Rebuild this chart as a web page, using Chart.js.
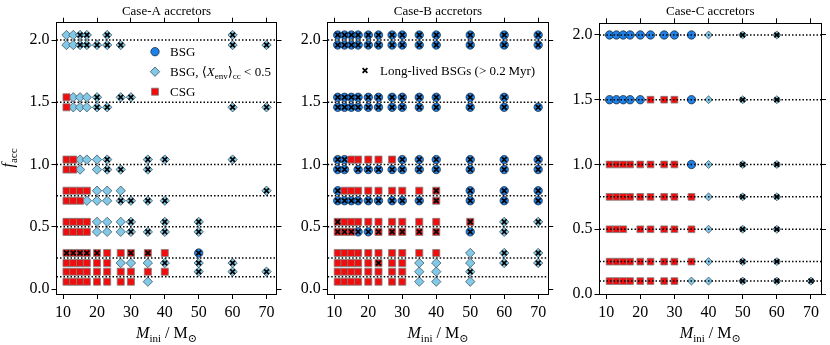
<!DOCTYPE html>
<html>
<head>
<meta charset="utf-8">
<script src="https://cdn.jsdelivr.net/npm/chart.js@4.4.0/dist/chart.umd.min.js"></script>
<style>
  body { margin: 0; background: #fff; }
  #wrap { position: relative; width: 830px; height: 345px; }
  #wrap canvas { position: absolute; left: 0; top: 0; }
</style>
</head>
<body>
<div id="wrap">
  <canvas id="caseA" width="830" height="345"></canvas>
  <canvas id="caseB" width="830" height="345"></canvas>
  <canvas id="caseC" width="830" height="345"></canvas>
</div>
<script>
const masses = [11, 13, 15, 17, 20, 23, 27, 30, 35, 40, 50, 60, 70];
const fLevels = [0.1, 0.25, 0.5, 0.75, 1.0, 1.5, 2.0];
const xTicks = [10, 20, 30, 40, 50, 60, 70];
const yTicks = [0, 0.5, 1.0, 1.5, 2.0];

// one string per f level (0.1 ... 2.0), one code per mass
// b = BSG, d = BSG with <Xenv>cc < 0.5, r = CSG, trailing x = long-lived BSG, . = no model
const caseA_upper = [
  'r r r r r r r r r r dx dx dx',
  'rx rx rx rx rx r r rx rx r bx . .',
  'r r r r d d d dx . dx dx . .',
  'r r r r d d d . . . . . dx',
  'r r d d d dx . . dx dx . dx .',
  'r d d d dx . dx dx . . . . .',
  'd d dx dx . dx . . . . . dx .'
];
const caseA_lower = [
  'r r r r r r r r d . . . .',
  'r r r r r r d d d dx dx dx .',
  'r r r r d d d dx dx dx dx . .',
  'r r r d d d dx dx dx dx . . .',
  'r r d . d dx dx . dx . . . .',
  'r d d d dx dx . . . . . dx dx',
  'd d dx dx dx dx dx . . . . dx dx'
];
const caseB_upper = [
  'r r r r r r r r d d dx . .',
  'r r r r r r r r r r d dx dx',
  'rx r r r r r r r r r rx dx dx',
  'bx r r r r r r r r rx bx bx bx',
  'bx bx r r r r r bx bx bx bx bx bx',
  'bx bx bx bx bx bx bx bx bx bx bx bx .',
  'bx bx bx bx bx bx bx bx bx bx bx bx bx'
];
const caseB_lower = [
  'r r r r r r r r d d d . .',
  'r r r r r rx r r d d d dx dx',
  'rx rx rx bx bx rx rx rx rx rx bx dx .',
  'bx bx bx bx bx bx bx bx bx rx bx bx bx',
  'bx bx . bx bx bx bx bx bx bx bx bx bx',
  'bx bx bx bx bx bx bx bx bx bx bx bx bx',
  'bx bx bx bx bx bx bx bx bx bx bx bx bx'
];
const caseC_rows = [
  'r r r r r r r r d d dx dx dx',
  'r r r r r r r r r d dx dx .',
  'r r r . r r r r r d dx dx .',
  'r r r r r r r r r d dx dx .',
  'r r r r r r r r b d dx dx .',
  'b b b b b r r r b d dx dx .',
  'b b b b b b b b b d dx dx .'
];

const SERIF = '"Liberation Serif", "Times New Roman", "DejaVu Serif", serif';
const X_MIN = 8.05, X_MAX = 72.95;
const ROW_SHIFT = 0.04;

const markStyle = {
  b: { pointStyle: 'circle', radius: 4.2, bg: '#1f81e5', border: '#14202e', bw: 0.7 },
  d: { pointStyle: 'rectRot', radius: 4.7, bg: '#82c9e8', border: '#34444e', bw: 0.7 },
  r: { pointStyle: 'rect', radius: 5.0, bg: '#f00d0d', border: '#7d7d7d', bw: 0.8 },
  x: { pointStyle: 'crossRot', radius: 3.4, bg: '#000', border: '#000', bw: 1.7 }
};

function rowsToPoints(rows, shift, out) {
  rows.forEach((row, i) => {
    row.split(' ').forEach((code, j) => {
      if (code === '.') return;
      const pt = { x: masses[j], y: fLevels[i] + shift };
      out[code[0]].push(pt);
      if (code.endsWith('x')) out.x.push(pt);
    });
  });
  return out;
}

function drawRich(ctx, parts, x, y, align) {
  let w = 0;
  const fontOf = p => (p.it ? 'italic ' : '') + p.size + 'px ' + SERIF;
  parts.forEach(p => { ctx.font = fontOf(p); p.w = ctx.measureText(p.t).width; w += p.w; });
  let cx = align === 'center' ? x - w / 2 : x;
  parts.forEach(p => {
    ctx.font = fontOf(p);
    ctx.fillText(p.t, cx, y + (p.dy || 0));
    cx += p.w;
  });
}

function drawMark(ctx, key, x, y, scale) {
  const s = markStyle[key];
  ctx.save();
  ctx.fillStyle = s.bg;
  ctx.strokeStyle = s.border;
  ctx.lineWidth = s.bw;
  Chart.helpers.drawPoint(ctx, { pointStyle: s.pointStyle, rotation: 0, radius: s.radius * (scale || 1), borderWidth: s.bw }, x, y);
  ctx.restore();
}

const xLabelParts = () => [
  { t: 'M', size: 16, it: true }, { t: 'ini', size: 11, dy: 3.5 },
  { t: ' / M', size: 16 }, { t: '\u2299', size: 11, dy: 3.5 }
];

function legendA(ctx) {
  const entries = [
    { mark: 'b', y: 51.7, parts: [{ t: 'BSG', size: 13 }] },
    { mark: 'd', y: 71.7, parts: [
      { t: 'BSG, \u27E8', size: 13 }, { t: 'X', size: 13, it: true }, { t: 'env', size: 9, dy: 2.5 },
      { t: '\u27E9', size: 13 }, { t: 'cc', size: 9, dy: 2.5 }, { t: ' < 0.5', size: 13 }] },
    { mark: 'r', y: 91.7, parts: [{ t: 'CSG', size: 13 }] }
  ];
  entries.forEach(e => {
    drawMark(ctx, e.mark, 155, e.y);
    drawRich(ctx, e.parts, 170, e.y + 4.3, 'left');
  });
}

function legendB(ctx) {
  drawMark(ctx, 'x', 365, 70.5);
  drawRich(ctx, [{ t: 'Long-lived BSGs (> 0.2\u2009Myr)', size: 13 }], 380, 74.8, 'left');
}

function textPlugin(cfg) {
  return {
    id: 'panelText',
    afterDraw(chart) {
      const ctx = chart.ctx, a = chart.chartArea;
      const cx = (a.left + a.right) / 2;
      ctx.save();
      ctx.fillStyle = '#000';
      ctx.textBaseline = 'alphabetic';
      drawRich(ctx, [{ t: cfg.title, size: 13 }], cx, 14.5, 'center');
      drawRich(ctx, xLabelParts(), cx, 338, 'center');
      if (cfg.yLabel) {
        ctx.save();
        ctx.translate(13, 158);
        ctx.rotate(-Math.PI / 2);
        drawRich(ctx, [{ t: 'f', size: 16, it: true }, { t: 'acc', size: 11, dy: 3.5 }], 0, 0, 'center');
        ctx.restore();
      }
      if (cfg.legend) cfg.legend(ctx);
      ctx.restore();
    }
  };
}

function axis(position, values, showLabels, size, fmt, min, max) {
  return {
    type: 'linear', position, min, max,
    afterBuildTicks: s => { s.ticks = values.map(v => ({ value: v })); },
    afterFit: s => {
      if (position === 'left' || position === 'right') s.width = size; else s.height = size;
    },
    grid: { drawOnChartArea: false, drawTicks: true, tickLength: 5, tickColor: '#000', tickWidth: 1 },
    border: { display: true, color: '#000', width: 1 },
    ticks: {
      display: showLabels, autoSkip: false, maxRotation: 0, padding: position === 'bottom' ? 4 : 2,
      color: '#000', font: { family: SERIF, size: 16 },
      callback: fmt
    }
  };
}

function makePanel(id, cfg) {
  const pts = { b: [], d: [], r: [], x: [] };
  cfg.rows.forEach(([rows, shift]) => rowsToPoints(rows, shift, pts));
  const sc = cfg.markScale || {};
  const datasets = [];
  ['r', 'd', 'b'].forEach(k => {
    const s = markStyle[k];
    datasets.push({
      data: pts[k], order: 2, pointStyle: s.pointStyle,
      pointRadius: s.radius * (sc[k] || 1), backgroundColor: s.bg,
      borderColor: s.border, borderWidth: s.bw
    });
  });
  fLevels.forEach(f => datasets.push({
    data: [{ x: X_MIN, y: f }, { x: X_MAX, y: f }], showLine: true, order: 1,
    pointRadius: 0, borderColor: '#000', borderWidth: 1.5, borderDash: [1.5, 2.0]
  }));
  datasets.push({
    data: pts.x, order: 0, pointStyle: 'crossRot', pointRadius: markStyle.x.radius * (sc.x || 1),
    borderColor: '#000', borderWidth: markStyle.x.bw, backgroundColor: '#000'
  });

  const A = cfg.area, LW = 50, RW = 8, TH = 8, BH = 45;
  const fx = v => String(v), fy = v => v.toFixed(1);
  const [yMin, yMax] = cfg.yRange;
  new Chart(document.getElementById(id), {
    type: 'scatter',
    data: { datasets },
    options: {
      responsive: false, animation: false, devicePixelRatio: 1, events: [],
      layout: { padding: { left: A.left - LW, right: 830 - A.right - RW, top: A.top - TH, bottom: 345 - A.bottom - BH } },
      plugins: { legend: { display: false }, tooltip: { enabled: false } },
      scales: {
        x: axis('bottom', xTicks, true, BH, fx, X_MIN, X_MAX),
        x2: axis('top', xTicks, false, TH, fx, X_MIN, X_MAX),
        y: axis('left', yTicks, true, LW, fy, yMin, yMax),
        y2: axis('right', yTicks, false, RW, fy, yMin, yMax)
      }
    },
    plugins: [textPlugin(cfg)]
  });
}

makePanel('caseA', {
  area: { left: 56.5, right: 276.5, top: 22.7, bottom: 294 },
  yRange: [-0.039, 2.139],
  rows: [[caseA_upper, ROW_SHIFT], [caseA_lower, -ROW_SHIFT]],
  title: 'Case-A accretors', yLabel: true, legend: legendA
});
makePanel('caseB', {
  area: { left: 327.7, right: 548.2, top: 22.7, bottom: 294 },
  yRange: [-0.039, 2.139],
  rows: [[caseB_upper, ROW_SHIFT], [caseB_lower, -ROW_SHIFT]],
  title: 'Case-B accretors', legend: legendB
});
makePanel('caseC', {
  area: { left: 599.5, right: 821, top: 23.3, bottom: 294 },
  yRange: [0, 2.09],
  rows: [[caseC_rows, 0]],
  markScale: { d: 0.85, r: 0.95 },
  title: 'Case-C accretors'
});
</script>
</body>
</html>
